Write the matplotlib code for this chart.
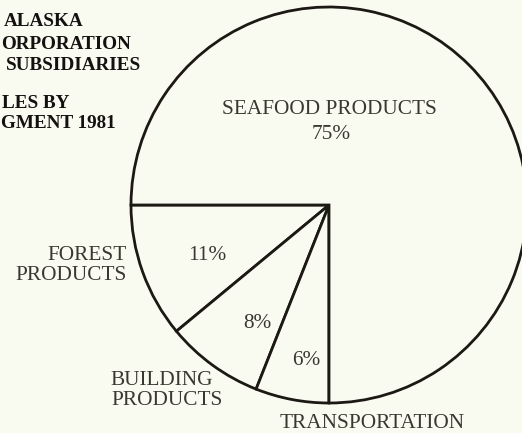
import matplotlib
matplotlib.use("Agg")
import matplotlib.pyplot as plt

# ---- data ----
segments = ["FOREST\nPRODUCTS", "BUILDING\nPRODUCTS", "TRANSPORTATION", "SEAFOOD PRODUCTS"]
shares = [11, 8, 6, 75]
pct_labels = ["11%", "8%", "6%", "75%"]
# title as visible in the (left-cropped) reference
title_lines = ["ALASKA", "ORPORATION", "SUBSIDIARIES"]
subtitle_lines = ["LES BY", "GMENT 1981"]

W, H = 522, 433
bg = "#fafbf0"
ink = "#1c1814"
txt = "#3a3631"

fig = plt.figure(figsize=(W / 100, H / 100), dpi=100, facecolor=bg)
ax = fig.add_axes([0, 0, 1, 1])
ax.set_facecolor(bg)

cx, cy, r = 329, 205, 198
ax.pie(shares, startangle=180, counterclock=False, center=(cx, cy), radius=r,
       colors=[bg] * len(shares),
       wedgeprops=dict(edgecolor=ink, linewidth=2.0), frame=True)
ax.set_xlim(0, W)
ax.set_ylim(H, 0)
ax.set_aspect("equal", adjustable="box")
ax.set_axis_off()

serif = ["Liberation Serif", "DejaVu Serif"]
fs = 15.3
tfs = 13.8

title_base = [26, 49, 70]
title_left = [4, 1, 6]
for s, yb, xl in zip(title_lines, title_base, title_left):
    ax.text(xl, yb, s, ha="left", va="baseline", family=serif, weight="bold",
            fontsize=tfs, color="#141110")
sub_base = [108, 128]
sub_left = [2, 1]
for s, yb, xl in zip(subtitle_lines, sub_base, sub_left):
    ax.text(xl, yb, s, ha="left", va="baseline", family=serif, weight="bold",
            fontsize=tfs, color="#141110")

# segment labels
ax.text(329, 114, segments[3], ha="center", va="baseline", family=serif, fontsize=fs, color=txt)
ax.text(331, 139, pct_labels[3], ha="center", va="baseline", family=serif, fontsize=fs, color=txt)

ax.text(127, 260, segments[0].split("\n")[0], ha="right", va="baseline", family=serif, fontsize=fs, color=txt)
ax.text(127, 280, segments[0].split("\n")[1], ha="right", va="baseline", family=serif, fontsize=fs, color=txt)
ax.text(207, 260, pct_labels[0], ha="center", va="baseline", family=serif, fontsize=fs, color=txt)

ax.text(110, 385, segments[1].split("\n")[0], ha="left", va="baseline", family=serif, fontsize=fs, color=txt)
ax.text(111, 405, segments[1].split("\n")[1], ha="left", va="baseline", family=serif, fontsize=fs, color=txt)
ax.text(257, 328, pct_labels[1], ha="center", va="baseline", family=serif, fontsize=fs, color=txt)

ax.text(372, 428, segments[2], ha="center", va="baseline", family=serif, fontsize=fs, color=txt)
ax.text(306, 365, pct_labels[2], ha="center", va="baseline", family=serif, fontsize=fs, color=txt)

fig.savefig("out.png", dpi=100, facecolor=bg)
